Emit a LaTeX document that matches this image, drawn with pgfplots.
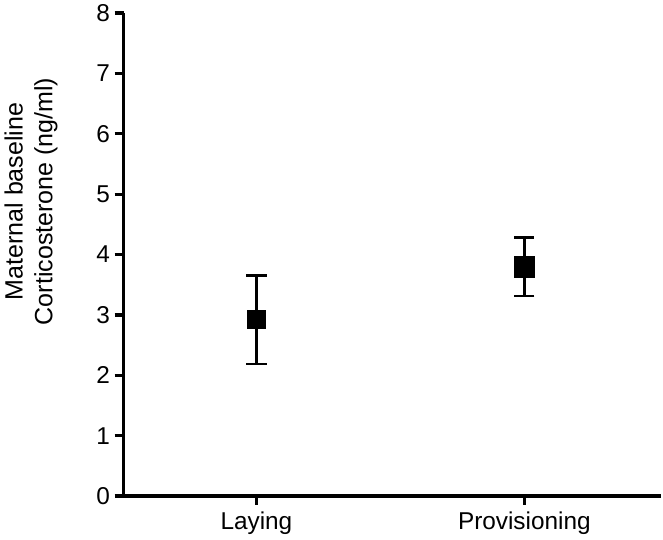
\documentclass[border=0pt]{standalone}
\usepackage{fontspec}
\setmainfont{Liberation Sans}
\usepackage{pgfplots}
\pgfplotsset{compat=1.18}
\begin{document}
\begin{tikzpicture}
\begin{axis}[
  scale only axis,
  width=397.5pt, height=357pt,
  xmin=-0.496, xmax=1.511,
  ymin=0, ymax=8,
  axis x line=bottom, axis y line=left,
  axis line style={line width=2.6pt, -, shorten <=-1.3pt},
  xtick={0,1}, xticklabels={Laying,Provisioning},
  ytick={0,1,...,8},
  tick align=outside,
  major tick length=6.5pt,
  tick style={line width=2.4pt, black},
  /pgf/number format/assume math mode=true,
  tick label style={font=\fontsize{18}{22}\selectfont},
  xticklabel style={yshift=-2pt},
  ylabel={Maternal baseline\\Corticosterone (ng/ml)},
  ylabel style={align=center, font=\fontsize{18.5}{22}\selectfont, at={(axis description cs:-0.172,0.61)}, anchor=center},
  clip=false,
]
\addplot+[black, only marks, mark=square*, mark size=6.4pt, mark options={fill=black},
  error bars/.cd, y dir=both, y explicit,
  error bar style={line width=1.8pt, black},
  error mark options={rotate=90, mark size=7.5pt, line width=1.8pt, black}]
  coordinates {(0,2.93) += (0,0.72) -= (0,0.74)};
\addplot+[black, only marks, mark=square*, mark size=7.6pt, mark options={fill=black},
  error bars/.cd, y dir=both, y explicit,
  error bar style={line width=1.8pt, black},
  error mark options={rotate=90, mark size=7.5pt, line width=1.8pt, black}]
  coordinates {(1,3.80) += (0,0.48) -= (0,0.49)};
\end{axis}
\end{tikzpicture}
\end{document}
